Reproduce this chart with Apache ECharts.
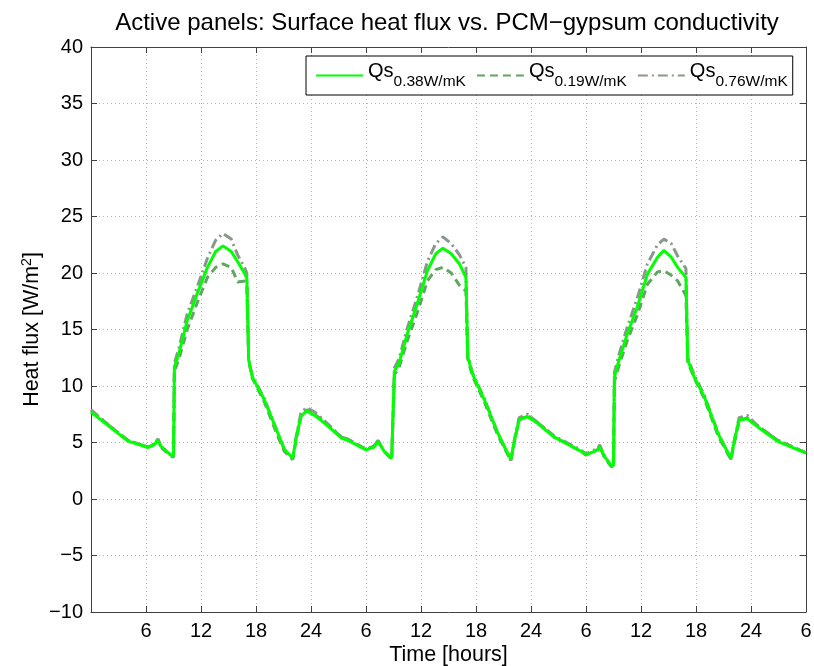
<!DOCTYPE html>
<html>
<head>
<meta charset="utf-8">
<script src="https://cdn.jsdelivr.net/npm/echarts@6/dist/echarts.min.js"></script>
<style>html,body{margin:0;padding:0;background:#fff}#c{width:814px;height:666px}</style>
</head>
<body>
<div id="c"></div>
<script>
// Time in hours
var hours = [
  0, 2, 4, 6.2, 6.9, 7.3, 7.6, 8.7, 9.0, 9.1, 9.6, 10.5, 11.6, 12.7, 13.6, 14.4, 15.3, 16.0, 16.8, 17.0, 17.2, 17.6, 18.9, 20.4, 21.1, 22.0, 22.4, 22.9, 23.5, 24.4, 25.5, 27.3,
  28, 30, 30.9, 31.3, 32, 32.8, 33.0, 33.1, 33.6, 34.5, 35.6, 36.7, 37.6, 38.4, 39.3, 40.2, 40.9, 41.1, 41.6, 42.9, 44.4, 45.8, 46.2, 46.7, 47.6, 48.7, 50.5, 53.5,
  54, 55.3, 55.5, 56.0, 56.7, 57.0, 57.1, 57.6, 58.5, 59.6, 60.7, 61.8, 62.5, 63.3, 64.0, 64.9, 65.1, 65.8, 66.9, 68.4, 69.8, 70.2, 70.7, 71.6, 72.7, 74.9, 78
];
// Qs, k = 0.38 W/mK
var qs038 = [
  7.7, 6.4, 5.15, 4.56, 4.8, 5.2, 4.7, 3.9, 3.8, 11.7, 12.9, 15.8, 18.2, 20.5, 21.9, 22.4, 21.9, 21.0, 19.9, 19.5, 12.3, 10.8, 8.8, 5.8, 4.4, 3.6, 5.5, 7.3, 7.8, 7.4, 6.7, 5.4,
  5.2, 4.35, 4.6, 5.1, 4.2, 3.6, 3.5, 11.3, 12.0, 14.6, 17.3, 20.2, 21.7, 22.2, 21.7, 20.8, 19.6, 12.6, 11.1, 8.8, 5.8, 3.5, 5.2, 7.0, 7.3, 6.7, 5.5, 4.2,
  3.9, 4.35, 4.6, 3.8, 3.0, 2.95, 10.8, 12.3, 14.6, 17.0, 19.9, 21.4, 22.0, 21.4, 20.5, 19.6, 12.3, 10.8, 9.06, 5.8, 3.6, 5.2, 7.0, 7.1, 6.4, 5.1, 4.06
];
// Qs, k = 0.19 W/mK
var qs019 = [
  7.8, 6.5, 5.2, 4.6, 4.8, 5.3, 4.6, 3.8, 3.7, 11.3, 12.4, 15.0, 17.4, 19.6, 20.5, 20.8, 20.5, 19.2, 19.3, 18.8, 12.2, 10.7, 8.6, 5.5, 4.2, 3.5, 5.3, 7.3, 7.9, 7.5, 6.8, 5.5,
  5.3, 4.4, 4.7, 5.2, 4.2, 3.5, 3.4, 11.0, 11.6, 14.0, 16.5, 19.3, 20.3, 20.5, 20.0, 18.9, 18.4, 12.4, 10.9, 8.6, 5.6, 3.4, 5.1, 7.0, 7.4, 6.8, 5.5, 4.2,
  3.9, 4.4, 4.7, 3.7, 2.9, 2.85, 10.4, 11.8, 14.0, 16.3, 19.0, 20.1, 20.2, 19.8, 19.3, 18.0, 12.1, 10.7, 8.9, 5.6, 3.5, 5.0, 6.9, 7.2, 6.5, 5.2, 4.1
];
// Qs, k = 0.76 W/mK
var qs076 = [
  7.9, 6.5, 5.2, 4.6, 4.9, 5.3, 4.7, 3.9, 3.8, 12.0, 13.4, 16.4, 18.8, 21.3, 22.9, 23.5, 23.0, 21.6, 20.4, 20.0, 12.4, 10.9, 8.9, 5.8, 4.3, 3.5, 5.6, 7.6, 8.1, 7.7, 6.9, 5.5,
  5.3, 4.4, 4.7, 5.2, 4.2, 3.6, 3.5, 11.6, 12.4, 15.1, 17.9, 21.0, 22.6, 23.2, 22.6, 21.6, 20.5, 12.8, 11.2, 8.9, 5.8, 3.4, 5.3, 7.2, 7.5, 6.8, 5.6, 4.3,
  4.0, 4.5, 4.8, 3.8, 3.0, 2.95, 11.2, 12.8, 15.2, 17.8, 20.8, 22.5, 23.0, 22.6, 21.5, 20.4, 12.5, 11.0, 9.2, 5.9, 3.5, 5.3, 7.2, 7.4, 6.5, 5.2, 4.1
];
var seriesNames = ['0.38W/mK', '0.19W/mK', '0.76W/mK'];
var xTickLabels = ['', '6', '12', '18', '24', '6', '12', '18', '24', '6', '12', '18', '24', '6'];

function pairs(v) { return hours.map(function (h, i) { return [h, v[i]]; }); }

var chart = echarts.init(document.getElementById('c'), null, {renderer: 'canvas'});
var FONT = 'Liberation Sans, Arial, sans-serif';
var axisCol = '#404040';
var gridLine = {show: true, lineStyle: {color: '#b4b4b4', type: [1, 3], width: 1}};

chart.setOption({
  animation: false,
  backgroundColor: '#fff',
  textStyle: {fontFamily: FONT},
  title: {
    text: 'Active panels: Surface heat flux vs. PCM\u2212gypsum conductivity',
    left: 442, top: 6, textAlign: 'center',
    textStyle: {fontFamily: FONT, fontSize: 24, fontWeight: 'normal', color: '#000'}
  },
  grid: {left: 91, right: 8, top: 47, bottom: 54, show: false, containLabel: false, outerBoundsMode: 'none'},
  legend: {
    left: 306, top: 56,
    data: seriesNames,
    itemWidth: 47, itemHeight: 12, itemGap: 10,
    itemStyle: {opacity: 0},
    padding: [5, 5, 5, 9],
    borderColor: '#000', borderWidth: 1, backgroundColor: '#fff',
    formatter: function (n) { return '{a|Qs}{b|' + n + '}'; },
    textStyle: {
      fontFamily: FONT, color: '#000',
      rich: {
        a: {fontSize: 20, fontFamily: FONT, color: '#000', verticalAlign: 'top', padding: [0, 0, 8, 0]},
        b: {fontSize: 15.5, fontFamily: FONT, color: '#000', padding: [13, 0, 0, 0]}
      }
    }
  },
  xAxis: [{
    type: 'value', min: 0, max: 78, interval: 6,
    name: 'Time [hours]', nameLocation: 'middle', nameGap: 32, nameMoveOverlap: false,
    nameTextStyle: {fontFamily: FONT, fontSize: 21.5, color: '#000'},
    axisLine: {show: true, onZero: false, lineStyle: {color: axisCol, width: 1}},
    axisTick: {show: true, inside: true, length: 6, lineStyle: {color: axisCol}},
    axisLabel: {fontFamily: FONT, fontSize: 20, color: '#000', margin: 9,
      formatter: function (v) { return xTickLabels[Math.round(v / 6)]; }},
    splitLine: gridLine
  }, {
    type: 'value', min: 0, max: 78, interval: 6, position: 'top',
    axisLine: {show: true, onZero: false, lineStyle: {color: axisCol, width: 1}},
    axisTick: {show: true, inside: true, length: 6, lineStyle: {color: axisCol}},
    axisLabel: {show: false}, splitLine: {show: false}
  }],
  yAxis: [{
    type: 'value', min: -10, max: 40, interval: 5,
    name: 'Heat flux [W/m{s|2}]', nameLocation: 'middle', nameGap: 46, nameRotate: 90, nameMoveOverlap: false,
    nameTextStyle: {fontFamily: FONT, fontSize: 21.5, color: '#000',
      rich: {s: {fontSize: 14, fontFamily: FONT, color: '#000', padding: [0, 0, 11, 0]}}},
    axisLine: {show: true, onZero: false, lineStyle: {color: axisCol, width: 1}},
    axisTick: {show: true, inside: true, length: 6, lineStyle: {color: axisCol}},
    axisLabel: {fontFamily: FONT, fontSize: 20, color: '#000', margin: 8,
      formatter: function (v) { return v < 0 ? '\u2212' + Math.abs(v) : String(v); }},
    splitLine: gridLine
  }, {
    type: 'value', min: -10, max: 40, interval: 5, position: 'right',
    axisLine: {show: true, onZero: false, lineStyle: {color: axisCol, width: 1}},
    axisTick: {show: true, inside: true, length: 6, lineStyle: {color: axisCol}},
    axisLabel: {show: false}, splitLine: {show: false}
  }],
  series: [{
    name: seriesNames[0], type: 'line', data: pairs(qs038), symbol: 'none', z: 5,
    lineStyle: {color: '#00ff00', width: 3}, itemStyle: {color: '#00ff00'}
  }, {
    name: seriesNames[1], type: 'line', data: pairs(qs019), symbol: 'none', z: 3,
    lineStyle: {color: '#62a462', width: 3, type: [8, 5]}, itemStyle: {color: '#62a462'}
  }, {
    name: seriesNames[2], type: 'line', data: pairs(qs076), symbol: 'none', z: 3,
    lineStyle: {color: '#8a978a', width: 3, type: [10, 4, 2, 4]}, itemStyle: {color: '#8a978a'}
  }]
});
</script>
</body>
</html>
